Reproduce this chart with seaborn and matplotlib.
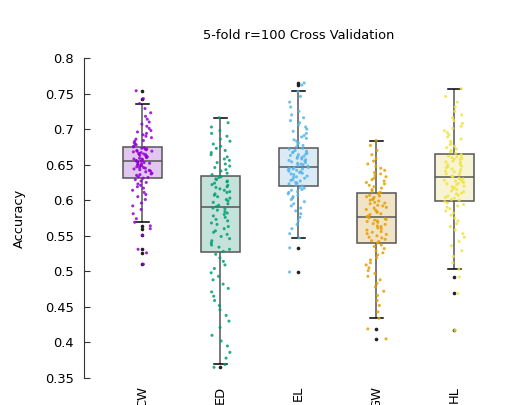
import numpy as np
import pandas as pd
import seaborn as sns
import matplotlib.pyplot as plt

categories = ["CW", "ED", "EL", "GW", "HL"]
point_colors = ["#9400D3", "#009E73", "#56B4E9", "#E69F00", "#F0E442"]
box_colors = ["#E4BFF4", "#BFE7DC", "#D5ECFA", "#F8E7BF", "#FCF8D0"]
y_ticks = [0.35, 0.4, 0.45, 0.5, 0.55, 0.6, 0.65, 0.7, 0.75, 0.8]

# accuracies, per model
cw_acc = [0.510, 0.526, 0.531, 0.551, 0.560, 0.564, 0.569, 0.574, 0.581, 0.587,
          0.592, 0.596, 0.601, 0.605, 0.608, 0.611, 0.614, 0.617, 0.619, 0.621,
          0.623, 0.625, 0.627, 0.629, 0.631,
          0.632, 0.633, 0.635, 0.636, 0.637, 0.638, 0.640, 0.641, 0.642, 0.643,
          0.644, 0.645, 0.646, 0.646, 0.647, 0.648, 0.649, 0.650, 0.650, 0.651,
          0.652, 0.653, 0.653, 0.654, 0.655,
          0.655, 0.656, 0.657, 0.658, 0.658, 0.659, 0.660, 0.661, 0.662, 0.662,
          0.663, 0.664, 0.665, 0.665, 0.666, 0.667, 0.668, 0.669, 0.669, 0.670,
          0.671, 0.672, 0.672, 0.673, 0.674,
          0.675, 0.676, 0.678, 0.679, 0.681, 0.683, 0.684, 0.686, 0.688, 0.690,
          0.692, 0.694, 0.696, 0.698, 0.701, 0.704, 0.707, 0.710, 0.714, 0.718,
          0.723, 0.729, 0.736, 0.743, 0.754]

ed_acc = [0.365, 0.369, 0.378, 0.386, 0.395, 0.402, 0.410, 0.421, 0.430, 0.438,
          0.446, 0.452, 0.459, 0.465, 0.471, 0.476, 0.482, 0.488, 0.493, 0.498,
          0.504, 0.509, 0.514, 0.519, 0.524,
          0.528, 0.531, 0.534, 0.537, 0.540, 0.543, 0.546, 0.549, 0.552, 0.555,
          0.557, 0.560, 0.563, 0.566, 0.568, 0.571, 0.573, 0.576, 0.578, 0.580,
          0.582, 0.584, 0.586, 0.588, 0.589,
          0.591, 0.593, 0.595, 0.597, 0.599, 0.601, 0.603, 0.605, 0.607, 0.609,
          0.611, 0.612, 0.614, 0.616, 0.618, 0.619, 0.621, 0.622, 0.624, 0.626,
          0.627, 0.629, 0.630, 0.632, 0.633,
          0.636, 0.638, 0.641, 0.643, 0.646, 0.648, 0.651, 0.653, 0.656, 0.658,
          0.661, 0.664, 0.667, 0.670, 0.673, 0.676, 0.679, 0.683, 0.686, 0.690,
          0.694, 0.698, 0.703, 0.709, 0.716]

el_acc = [0.499, 0.533, 0.547, 0.553, 0.560, 0.566, 0.571, 0.576, 0.581, 0.585,
          0.589, 0.592, 0.595, 0.598, 0.601, 0.603, 0.605, 0.607, 0.609, 0.611,
          0.612, 0.614, 0.615, 0.617, 0.618,
          0.620, 0.621, 0.623, 0.624, 0.625, 0.627, 0.628, 0.629, 0.631, 0.632,
          0.633, 0.634, 0.636, 0.637, 0.638, 0.639, 0.640, 0.641, 0.642, 0.643,
          0.644, 0.644, 0.645, 0.646, 0.646,
          0.648, 0.649, 0.650, 0.651, 0.652, 0.653, 0.654, 0.655, 0.656, 0.657,
          0.658, 0.659, 0.660, 0.661, 0.662, 0.663, 0.664, 0.665, 0.666, 0.667,
          0.668, 0.669, 0.670, 0.672, 0.673,
          0.675, 0.677, 0.679, 0.681, 0.683, 0.685, 0.687, 0.689, 0.691, 0.694,
          0.697, 0.700, 0.703, 0.706, 0.709, 0.712, 0.716, 0.720, 0.725, 0.731,
          0.738, 0.746, 0.753, 0.762, 0.765]

gw_acc = [0.405, 0.419, 0.434, 0.443, 0.452, 0.459, 0.466, 0.472, 0.478, 0.483,
          0.488, 0.493, 0.497, 0.501, 0.505, 0.509, 0.512, 0.516, 0.519, 0.523,
          0.526, 0.529, 0.532, 0.535, 0.537,
          0.540, 0.542, 0.543, 0.545, 0.547, 0.548, 0.550, 0.552, 0.553, 0.555,
          0.556, 0.558, 0.560, 0.561, 0.563, 0.564, 0.566, 0.567, 0.569, 0.570,
          0.571, 0.572, 0.573, 0.574, 0.575,
          0.577, 0.578, 0.580, 0.581, 0.583, 0.584, 0.586, 0.587, 0.589, 0.590,
          0.592, 0.593, 0.595, 0.596, 0.597, 0.599, 0.600, 0.601, 0.602, 0.604,
          0.605, 0.606, 0.607, 0.609, 0.610,
          0.611, 0.613, 0.615, 0.617, 0.619, 0.621, 0.623, 0.625, 0.627, 0.629,
          0.631, 0.633, 0.635, 0.637, 0.639, 0.642, 0.645, 0.648, 0.651, 0.655,
          0.659, 0.664, 0.670, 0.677, 0.684]

hl_acc = [0.417, 0.469, 0.492, 0.503, 0.512, 0.521, 0.529, 0.536, 0.542, 0.548,
          0.553, 0.558, 0.563, 0.567, 0.571, 0.575, 0.579, 0.582, 0.585, 0.588,
          0.590, 0.592, 0.594, 0.596, 0.598,
          0.600, 0.601, 0.603, 0.604, 0.606, 0.607, 0.609, 0.610, 0.612, 0.613,
          0.615, 0.616, 0.618, 0.619, 0.620, 0.622, 0.623, 0.624, 0.625, 0.626,
          0.627, 0.628, 0.629, 0.630, 0.631,
          0.633, 0.634, 0.636, 0.637, 0.639, 0.640, 0.641, 0.643, 0.644, 0.646,
          0.647, 0.648, 0.650, 0.651, 0.653, 0.654, 0.655, 0.657, 0.658, 0.659,
          0.660, 0.661, 0.662, 0.663, 0.664,
          0.666, 0.668, 0.670, 0.672, 0.674, 0.676, 0.678, 0.680, 0.683, 0.686,
          0.689, 0.692, 0.695, 0.698, 0.701, 0.704, 0.708, 0.712, 0.716, 0.720,
          0.725, 0.731, 0.738, 0.746, 0.757]

groups = [cw_acc, ed_acc, el_acc, gw_acc, hl_acc]
df = pd.DataFrame({
    "model": np.repeat(categories, [len(g) for g in groups]),
    "accuracy": np.concatenate(groups),
})

np.random.seed(3)
fig = plt.figure(figsize=(5.27, 4.05), dpi=100)
ax = fig.add_axes([0.159, 0.0667, 0.814, 0.79])

sns.boxplot(
    data=df, x="model", y="accuracy", hue="model", palette=box_colors,
    width=0.5, linecolor="#555555", linewidth=1.1, fliersize=1.6,
    flierprops=dict(marker="o", markerfacecolor="#222222", markeredgecolor="#222222"),
    capprops=dict(color="black"), capwidths=0.17,
    legend=False, ax=ax,
)
sns.stripplot(
    data=df, x="model", y="accuracy", hue="model", palette=point_colors,
    jitter=0.13, size=2.2, alpha=0.85, linewidth=0, legend=False, ax=ax,
)

ax.set_xlim(-0.75, 4.75)
ax.set_ylim(0.35, 0.8)
ax.set_yticks(y_ticks)
ax.set_yticklabels([f"{v:g}" for v in y_ticks], fontsize=9.4)
ax.tick_params(axis="y", direction="in", length=4, pad=7, color="#333333")
ax.tick_params(axis="x", length=0, pad=5.5, labelsize=9.4, labelrotation=90)
for side in ["top", "right", "bottom"]:
    ax.spines[side].set_visible(False)
ax.spines["left"].set_color("#333333")

ax.set_xlabel("")
ax.set_ylabel("Accuracy", fontsize=9.4, labelpad=14)
ax.set_title("5-fold r=100 Cross Validation", fontsize=9.4, pad=14)

fig.savefig("out.png", dpi=100)
